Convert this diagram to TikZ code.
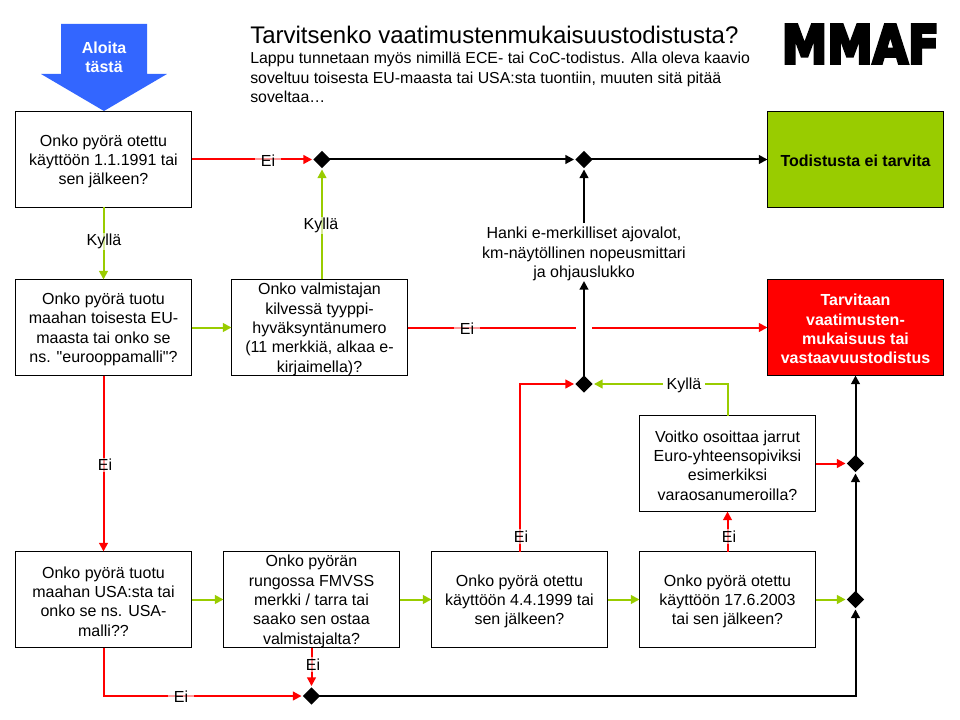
\documentclass[tikz,border=0pt]{standalone}
\usepackage{fontspec}
\setmainfont{Liberation Sans}
\newfontfamily\qfont{Liberation Sans}
\newfontfamily\logofont[FakeBold=6]{DejaVu Sans Bold}
\usetikzlibrary{arrows.meta,shapes.geometric}
\definecolor{cblue}{HTML}{3366FF}
\definecolor{cgreen}{HTML}{99CC00}
\definecolor{cred}{HTML}{FF0000}
\newcommand\tgap{\rule{0pt}{11.6pt}}
\newcommand\bgap{\rule{0pt}{11.2pt}}
\tikzset{
  body/.style={font=\fontsize{12}{14.5}\selectfont},
  qbox/.style={body,draw=black,line width=0.8pt,fill=white,minimum width=132pt,minimum height=72pt,inner sep=0pt,outer sep=0pt,align=center},
  endbox/.style={qbox,font=\fontsize{12}{14.5}\selectfont\bfseries},
  junction/.style={diamond,fill=black,draw=none,minimum width=13.5pt,minimum height=13.5pt,inner sep=0pt,outer sep=0.7pt},
  flow/.style={line width=1.5pt,-{Triangle[length=6.5pt,width=6.5pt]}},
  plain/.style={line width=1.5pt},
  redflow/.style={flow,draw=cred},
  greenflow/.style={flow,draw=cgreen},
  blackflow/.style={flow,draw=black},
  tag/.style={body,fill=white,fill opacity=0.6,text opacity=1,inner xsep=4.5pt,inner ysep=1pt},
  solidtag/.style={body,fill=white,inner xsep=3pt,inner ysep=1pt}
}
\begin{document}
\begin{tikzpicture}[x=0.75pt,y=-0.75pt]
\useasboundingbox (0,0) rectangle (960,720);
% start arrow
\path[fill=cblue] (61,24) -- (147,24) -- (147,74) -- (167,74) -- (104,111) -- (41,74) -- (61,74) -- cycle;
\node[font=\fontsize{12}{14.5}\selectfont\bfseries,text=white,align=center] (start) at (104,57) {Aloita\\täst\"a};
% title
\node[anchor=base west,inner sep=0pt,font=\fontsize{18}{22}\selectfont] (title) at (250,44) {Tarvitsenko vaatimustenmukaisuustodistusta?};
\node[anchor=north west,inner sep=0pt,font=\fontsize{11.9}{14.5}\selectfont,align=left] (intro) at (250,52) {Lappu tunnetaan myös nimillä ECE- tai CoC-todistus. Alla oleva kaavio\\soveltuu toisesta EU-maasta tai USA:sta tuontiin, muuten sitä pitää\\soveltaa…};
\node[inner sep=0pt] (logo) at (860.5,44) {\resizebox{118pt}{29pt}{\logofont MMAF}};
% boxes
\node[qbox] (q1) at (103.5,159.5) {\tgap Onko pyörä otettu\\käyttöön 1.1.1991 tai\\sen jälkeen?};
\node[qbox] (q2) at (103.5,327.5) {\tgap Onko pyörä tuotu\\maahan toisesta EU-\\maasta tai onko se\\ns. {\qfont\char34}eurooppamalli{\qfont\char34}?};
\node[qbox] (q3) at (319.5,327.5) {\tgap Onko valmistajan\\kilvessä tyyppi-\\hyväksyntänumero\\(11 merkkiä, alkaa e-\\kirjaimella)?};
\node[qbox] (q4) at (103.5,599.5) {\tgap Onko pyörä tuotu\\maahan USA:sta tai\\onko se ns. USA-\\malli??};
\node[qbox] (q5) at (311.5,599.5) {\tgap Onko pyörän\\rungossa FMVSS\\merkki / tarra tai\\saako sen ostaa\\valmistajalta?};
\node[qbox] (q6) at (519.5,599.5) {\tgap Onko pyörä otettu\\käyttöön 4.4.1999 tai\\sen jälkeen?};
\node[qbox] (q7) at (727.5,599.5) {\tgap Onko pyörä otettu\\käyttöön 17.6.2003\\tai sen jälkeen?};
\node[qbox] (q8) at (727.5,463.5) {\tgap Voitko osoittaa jarrut\\Euro-yhteensopiviksi\\esimerkiksi\\varaosanumeroilla?};
\node[endbox,fill=cgreen] (okbox) at (855.5,159.5) {\bgap Todistusta ei tarvita};
\node[endbox,fill=cred,text=white] (needbox) at (855.5,327.5) {\bgap Tarvitaan\\vaatimusten-\\mukaisuus tai\\vastaavuustodistus};
\node[body,align=center,inner sep=0pt,minimum height=43pt] (lights) at (584,252) {\tgap Hanki e-merkilliset ajovalot,\\km-näytöllinen nopeusmittari\\ja ohjauslukko};
% junctions
\node[junction] (j1) at (322,159.5) {};
\node[junction] (j2) at (584,159.5) {};
\node[junction] (j3) at (584,384) {};
\node[junction] (j4) at (855.5,463.5) {};
\node[junction] (j5) at (855.5,599.5) {};
\node[junction] (j6) at (311.5,696) {};
\coordinate (gapL) at (576,327.5);
\coordinate (gapR) at (592,327.5);
% connectors
\draw[redflow] (q1) -- (j1);
\draw[blackflow] (j1.center) -- (j2);
\draw[blackflow] (j2.center) -- (okbox);
\draw[blackflow] (lights.north) -- (j2);
\draw[blackflow] (j3.center) -- (lights.south);
\draw[greenflow] (q1) -- (q2);
\draw[greenflow] (q2) -- (q3);
\draw[greenflow] (q3.north -| j1) -- (j1);
\draw[plain,draw=cred] (q3) -- (gapL);
\draw[redflow] (gapR) -- (needbox);
\draw[redflow] (q2) -- (q4);
\draw[greenflow] (q4) -- (q5);
\draw[greenflow] (q5) -- (q6);
\draw[greenflow] (q6) -- (q7);
\draw[greenflow] (q7.east) -- (j5);
\draw[redflow] (q8.east) -- (j4);
\draw[redflow] (q7) -- (q8);
\draw[redflow] (q6.north) |- (j3);
\draw[greenflow] (q8.north) |- (j3);
\draw[redflow] (q4.south) |- (j6);
\draw[redflow] (q5.south -| j6) -- (j6);
\draw[blackflow] (j6.center) -| (j5);
\draw[blackflow] (j5.center) -- (j4);
\draw[blackflow] (j4.center) -- (needbox.south -| j4);
% labels
\node[tag] (l1) at (268,160.5) {Ei};
\node[tag] (l2) at (467,328.5) {Ei};
\node[tag] (l3) at (105,465) {Ei};
\node[tag] (l4) at (181,696.5) {Ei};
\node[tag,inner xsep=1pt] (l5) at (313,664.5) {Ei};
\node[tag,inner xsep=1pt] (l6) at (521,536.5) {Ei};
\node[tag,inner xsep=1pt] (l7) at (729,536.5) {Ei};
\node[tag] (l8) at (104,241.5) {Kyllä};
\node[tag] (l9) at (321,225.5) {Kyllä};
\node[solidtag] (l10) at (684,385) {Kyllä};
\end{tikzpicture}
\end{document}
